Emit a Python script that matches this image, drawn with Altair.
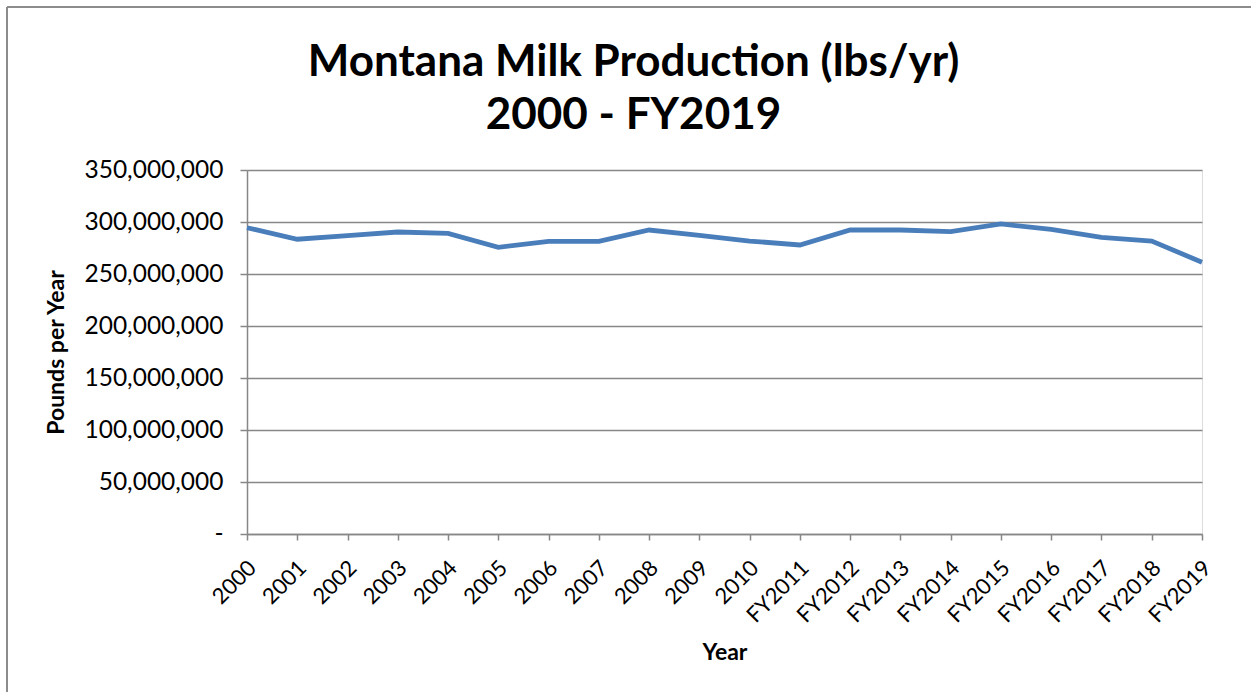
import altair as alt
import pandas as pd

years = ["2000", "2001", "2002", "2003", "2004", "2005", "2006", "2007", "2008", "2009",
         "2010", "FY2011", "FY2012", "FY2013", "FY2014", "FY2015", "FY2016", "FY2017",
         "FY2018", "FY2019"]
pounds = [294500000, 283400000, 286800000, 290400000, 289100000, 275700000, 281400000,
          281400000, 292300000, 287200000, 281700000, 277900000, 292300000, 292300000,
          290700000, 298100000, 292900000, 285300000, 281700000, 261300000]

df = pd.DataFrame({"Year": years, "Pounds": pounds})

FONT = "Lato"
GRID = "#878787"

line = alt.Chart(df).mark_line(color="#4A7EBB", strokeWidth=4.8).encode(
    x=alt.X("Year:N", sort=years, scale=alt.Scale(type="point", padding=0),
            axis=alt.Axis(title="Year", labelAngle=-45, labelAlign="right",
                          labelBaseline="middle", labelFontSize=22, labelFont=FONT,
                          labelColor="black", labelPadding=24, labelOffset=5,
                          titleFont=FONT, titleFontSize=23, titleFontWeight="bold",
                          titleColor="black", titleY=118, titleBaseline="middle",
                          domainColor=GRID, domainWidth=1.5, tickColor=GRID,
                          tickWidth=1.5, tickSize=6, grid=False)),
    y=alt.Y("Pounds:Q", scale=alt.Scale(domain=[0, 350000000]),
            axis=alt.Axis(title="Pounds per Year", values=list(range(0, 350000001, 50000000)),
                          labelExpr="datum.value == 0 ? '-' : format(datum.value, ',')",
                          labelFontSize=24.5, labelFont=FONT, labelColor="black",
                          labelPadding=17,
                          titleFont=FONT, titleFontSize=23, titleFontWeight="bold",
                          titleColor="black", titlePadding=15,
                          domainColor=GRID, domainWidth=1.5, tickColor=GRID,
                          tickWidth=1.5, tickSize=7,
                          gridColor=GRID, gridWidth=1.5)),
)

border = alt.Chart(df).mark_rule(color="#8C8C8C", strokeWidth=2).encode(
    x=alt.value(-240), x2=alt.value(1010), y=alt.value(-163)
)
border_left = alt.Chart(df).mark_rule(color="#8C8C8C", strokeWidth=2).encode(
    x=alt.value(-240), y=alt.value(-163), y2=alt.value(530)
)

chart = alt.layer(border, border_left, line).properties(
    width=955, height=364,
    title=alt.TitleParams(
        text=["Montana Milk Production (lbs/yr)", "2000 - FY2019"],
        font=FONT, fontSize=44, fontWeight="bold", color="black",
        anchor="middle", dx=-91, offset=-132, lineHeight=53,
    ),
    padding={"left": 247, "top": 170, "right": 49, "bottom": 158},
    autosize=alt.AutoSizeParams(type="none"),
).configure_view(stroke=None).configure(background="white")

chart.save("out.html", embed_options={"renderer": "svg", "actions": False})
